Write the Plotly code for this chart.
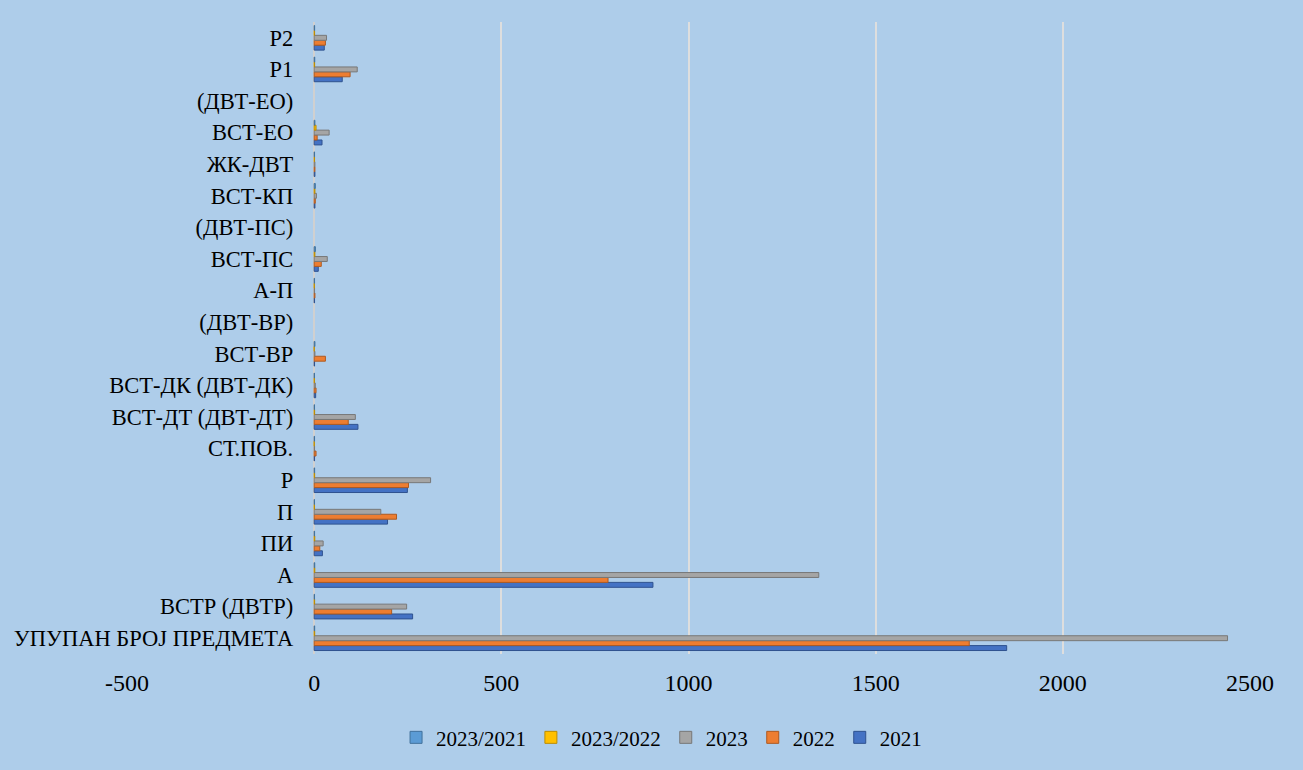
import plotly.graph_objects as go

categories = ["УПУПАН БРОЈ ПРЕДМЕТА", "ВСТР (ДВТР)", "А", "ПИ", "П", "Р", "СТ.ПОВ.",
              "ВСТ-ДТ (ДВТ-ДТ)", "ВСТ-ДК (ДВТ-ДК)", "ВСТ-ВР", "(ДВТ-ВР)", "А-П", "ВСТ-ПС",
              "(ДВТ-ПС)", "ВСТ-КП", "ЖК-ДВТ", "ВСТ-ЕО", "(ДВТ-ЕО)", "Р1", "Р2"]

v2021 = [1850, 263, 905, 22, 196, 249, 1, 117, 4, 1, None, 1, 11, None, 2, 2, 21, None, 75, 27]
v2022 = [1750, 207, 785, 15, 220, 252, 5, 91, 5, 30, None, 2, 19, None, 3, 2, 8, None, 96, 30]
v2023 = [2440, 247, 1348, 24, 178, 311, 1, 110, 3, 2, None, 1, 35, None, 6, 2, 40, None, 115, 33]
r2023_2022 = [1.39, 1.19, 1.72, 1.6, 0.81, 1.23, 0.2, 1.21, 0.6, 0.07, None, 0.5, 1.84, None, 2, 1, 5, None, 1.2, 1.1]
r2023_2021 = [1.32, 0.94, 1.49, 1.09, 0.91, 1.25, 1, 0.94, 0.75, 2, None, 1, 3.18, None, 3, 1, 1.9, None, 1.53, 1.22]

x_ticks = [-500, 0, 500, 1000, 1500, 2000, 2500]
x_tick_labels = ["-500", "0", "500", "1000", "1500", "2000", "2500"]

series = [
    ("2021", v2021, "#4472C4", "#2F528F"),
    ("2022", v2022, "#ED7D31", "#AE5A21"),
    ("2023", v2023, "#A5A5A5", "#787878"),
    ("2023/2022", r2023_2022, "#FFC000", "#BC8C00"),
    ("2023/2021", r2023_2021, "#5B9BD5", "#41719C"),
]

fig = go.Figure()
for name, vals, col, edge in series:
    fig.add_trace(go.Bar(
        y=categories, x=vals, name=name, orientation="h",
        marker=dict(color=col, line=dict(color=edge, width=1)),
    ))

font_family = "Liberation Serif, Times New Roman, serif"
fig.update_layout(
    width=1303, height=770,
    paper_bgcolor="#AECDEA", plot_bgcolor="#AECDEA",
    barmode="group", bargap=0.22, bargroupgap=0,
    margin=dict(l=127, r=53, t=22, b=114),
    font=dict(family=font_family, size=21, color="#000000"),
    showlegend=True,
    legend=dict(orientation="h", x=0.476, xanchor="center", y=-0.1, yanchor="top",
                traceorder="reversed", font=dict(size=21, family=font_family),
                itemwidth=30, bgcolor="rgba(0,0,0,0)"),
    xaxis=dict(range=[-500, 2500], tickvals=x_ticks, ticktext=x_tick_labels, showgrid=True,
               gridcolor="#DEDEDE", gridwidth=2, zeroline=True,
               zerolinecolor="#D0D0D0", zerolinewidth=2, showline=False,
               ticks="", ticklabelstandoff=12,
               tickfont=dict(size=24, family=font_family)),
    yaxis=dict(categoryorder="array", categoryarray=categories, type="category",
               anchor="free", position=1/6, showgrid=False, showline=False,
               ticks="", ticklabelstandoff=21,
               tickfont=dict(size=22.5, family=font_family)),
)

fig.write_html("out.html", config={"displayModeBar": False},
               post_script="document.body.style.margin='0';document.body.style.background='#AECDEA';")
